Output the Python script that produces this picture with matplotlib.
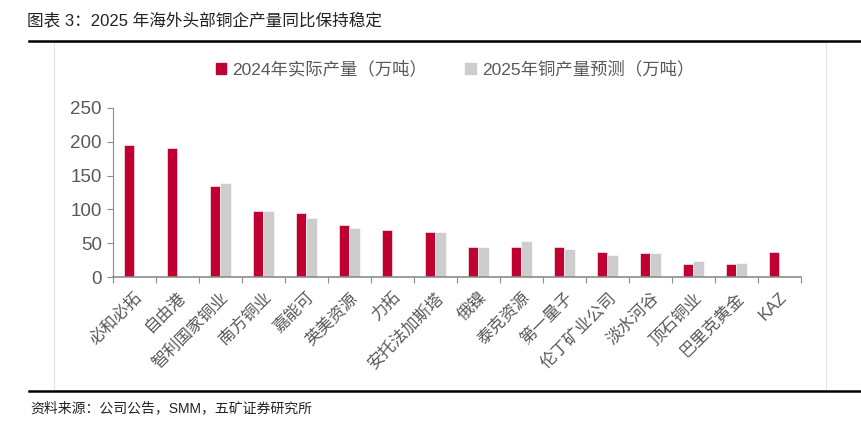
import matplotlib
matplotlib.use("Agg")
import matplotlib.pyplot as plt
import matplotlib.patches as mpatches
from matplotlib.lines import Line2D
import numpy as np

plt.rcParams['font.family'] = ['Liberation Sans', 'Noto Sans CJK SC', 'DejaVu Sans']

# -------------------------------
# data (万吨)
# -------------------------------
companies = ["必和必拓", "自由港", "智利国家铜业", "南方铜业", "嘉能可", "英美资源", "力拓",
             "安托法加斯塔", "俄镍", "泰克资源", "第一量子", "伦丁矿业公司", "淡水河谷",
             "顶石铜业", "巴里克黄金", "KAZ"]
prod_2024 = [196, 191, 134, 97, 95, 77, 69, 67, 44, 44, 44, 37, 35, 19, 19, 37]
fcst_2025 = [np.nan, np.nan, 139, 97, 88, 72, np.nan, 67, 44, 53, 42, 32, 35, 23, 21, np.nan]
label_2024 = "2024年实际产量（万吨）"
label_2025 = "2025年铜产量预测（万吨）"

red = "#C00030"
grey = "#CDCDCD"
axis_grey = "#8C8C8C"
text_grey = "#595959"

fig = plt.figure(figsize=(8.62, 4.30), dpi=100)
ax = fig.add_axes([113 / 862, 1 - 277 / 430, (801 - 113) / 862, (277 - 108) / 430])

x = np.arange(len(companies))
w = 0.25
ax.bar(x - w / 2, prod_2024, width=w, color=red, edgecolor="white", linewidth=0.4, label=label_2024)
ax.bar(x + w / 2, fcst_2025, width=w, color=grey, edgecolor="white", linewidth=0.4, label=label_2025)

ax.set_xlim(-0.5, len(companies) - 0.5)
ax.set_ylim(0, 250)
ax.set_yticks(range(0, 251, 50))
ax.tick_params(axis="y", labelsize=13.5, colors=axis_grey, labelcolor=text_grey, length=4, width=0.8, pad=4)

# category ticks sit on the boundaries, labels under the centres
ax.set_xticks(np.arange(-0.5, len(companies)), minor=False)
ax.set_xticklabels([])
ax.set_xticks(x, minor=True)
ax.set_xticklabels(companies, minor=True, rotation=45, ha="right", va="top",
                   rotation_mode="anchor", fontsize=12, color=text_grey)
ax.tick_params(axis="x", which="major", colors=axis_grey, length=4, width=0.8)
ax.tick_params(axis="x", which="minor", length=0, pad=9)

for side in ["top", "right"]:
    ax.spines[side].set_visible(False)
ax.spines["left"].set_color(axis_grey)
ax.spines["left"].set_linewidth(0.8)
ax.spines["bottom"].set_color(axis_grey)
ax.spines["bottom"].set_linewidth(1.2)

handles = [mpatches.Patch(color=red, label=label_2024),
           mpatches.Patch(color=grey, label=label_2025)]
leg = fig.legend(handles=handles, loc="center", bbox_to_anchor=(0.528, 1 - 69 / 430), ncol=2,
                 frameon=False, fontsize=12.5, handlelength=0.6, handleheight=0.6,
                 handletextpad=0.35, columnspacing=2.2)
for t in leg.get_texts():
    t.set_color(text_grey)

# title, rules, frame and source
fig.text(27 / 862, 1 - 20 / 430, "图表 3：2025 年海外头部铜企产量同比保持稳定",
         fontsize=12, color="#222222", va="center", ha="left")
fig.add_artist(Line2D([29 / 862, 1], [1 - 40.5 / 430] * 2, color="black", linewidth=1.8))
fig.add_artist(Line2D([29 / 862, 1], [1 - 390.5 / 430] * 2, color="black", linewidth=1.8))
fig.add_artist(mpatches.Rectangle((54 / 862, 1 - 390 / 430), (826 - 54) / 862, (390 - 42) / 430,
                                  fill=False, edgecolor="#E3E3E3", linewidth=0.8, zorder=0))
fig.text(30 / 862, 1 - 408 / 430, "资料来源：公司公告，SMM，五矿证券研究所",
         fontsize=10, color="#222222", va="center", ha="left")

plt.savefig("out.png", dpi=100)
